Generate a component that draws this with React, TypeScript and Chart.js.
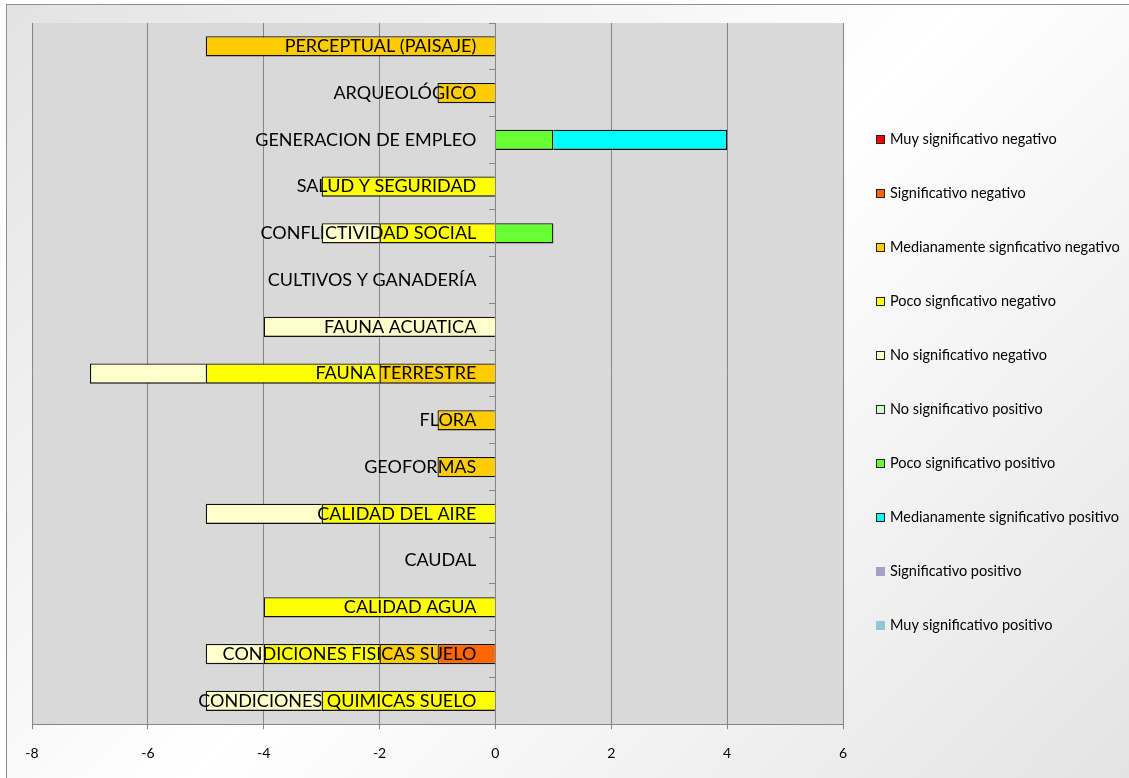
import React, { useEffect, useRef } from "react";
import { Chart, registerables } from "chart.js";

Chart.register(...registerables);

const FONT = "Lato, 'Open Sans', sans-serif";

// Impact categories, listed from the top row down
const categories = [
  "PERCEPTUAL (PAISAJE)",
  "ARQUEOLÓGICO",
  "GENERACION DE EMPLEO",
  "SALUD Y SEGURIDAD",
  "CONFLICTIVIDAD SOCIAL",
  "CULTIVOS Y GANADERÍA",
  "FAUNA ACUATICA",
  "FAUNA TERRESTRE",
  "FLORA",
  "GEOFORMAS",
  "CALIDAD DEL AIRE",
  "CAUDAL",
  "CALIDAD AGUA",
  "CONDICIONES FISICAS SUELO",
  "CONDICIONES QUIMICAS SUELO",
];

const seriesNames = [
  "Muy significativo negativo",
  "Significativo negativo",
  "Medianamente signficativo negativo",
  "Poco signficativo negativo",
  "No significativo negativo",
  "No significativo positivo",
  "Poco significativo positivo",
  "Medianamente significativo positivo",
  "Significativo positivo",
  "Muy significativo positivo",
];

const seriesColors = [
  "#ff0000",
  "#ff6600",
  "#ffcc00",
  "#ffff00",
  "#ffffcc",
  "#ccffcc",
  "#66ff33",
  "#00ffff",
  "#a99cc6",
  "#93c5d7",
];

// Series drawn with a dark outline
const seriesOutlined = [true, true, true, true, true, true, true, true, false, false];

const muySignificativoNegativo = [null, null, null, null, null, null, null, null, null, null, null, null, null, null, null];
const significativoNegativo = [null, null, null, null, null, null, null, null, null, null, null, null, null, -1, null];
const medianamenteNegativo = [-5, -1, null, null, null, null, null, -2, -1, -1, null, null, null, -1, null];
const pocoNegativo = [null, null, null, -3, -2, null, null, -3, null, null, -3, null, -4, -2, -3];
const noSignificativoNegativo = [null, null, null, null, -1, null, -4, -2, null, null, -2, null, null, -1, -2];
const noSignificativoPositivo = [null, null, null, null, null, null, null, null, null, null, null, null, null, null, null];
const pocoPositivo = [null, null, 1, null, 1, null, null, null, null, null, null, null, null, null, null];
const medianamentePositivo = [null, null, 3, null, null, null, null, null, null, null, null, null, null, null, null];
const significativoPositivo = [null, null, null, null, null, null, null, null, null, null, null, null, null, null, null];
const muySignificativoPositivo = [null, null, null, null, null, null, null, null, null, null, null, null, null, null, null];

const seriesValues = [
  muySignificativoNegativo,
  significativoNegativo,
  medianamenteNegativo,
  pocoNegativo,
  noSignificativoNegativo,
  noSignificativoPositivo,
  pocoPositivo,
  medianamentePositivo,
  significativoPositivo,
  muySignificativoPositivo,
];

const xMin = -8;
const xMax = 6;
const xStep = 2;

// Grey fill behind the plotting area
const plotBackground = {
  id: "plotBackground",
  beforeDraw(chart: any) {
    const { ctx, chartArea: a } = chart;
    ctx.save();
    ctx.fillStyle = "#d9d9d9";
    ctx.fillRect(a.left, a.top, a.right - a.left, a.bottom - a.top);
    ctx.restore();
  },
};

// Vertical legend to the right of the plot
const sideLegend = {
  id: "sideLegend",
  afterDraw(chart: any) {
    const { ctx, chartArea } = chart;
    const boxX = chartArea.right + 33;
    ctx.save();
    ctx.font = `14.5px ${FONT}`;
    ctx.textBaseline = "middle";
    ctx.textAlign = "left";
    chart.data.datasets.forEach((ds: any, i: number) => {
      const y = 139 + i * 54;
      const top = Math.round(y - 4.5);
      ctx.fillStyle = ds.backgroundColor;
      ctx.fillRect(boxX, top, 9, 9);
      if (ds.borderWidth > 0) {
        ctx.strokeStyle = "#222222";
        ctx.lineWidth = 1;
        ctx.strokeRect(boxX + 0.5, top + 0.5, 8, 8);
      }
      ctx.fillStyle = "#000000";
      ctx.fillText(ds.label, boxX + 14, y);
    });
    ctx.restore();
  },
};

export default function App() {
  const canvasRef = useRef<HTMLCanvasElement>(null);

  useEffect(() => {
    if (!canvasRef.current) return;
    const chart = new Chart(canvasRef.current, {
      type: "bar",
      data: {
        labels: categories,
        datasets: seriesNames.map((name, i) => ({
          label: name,
          data: seriesValues[i],
          backgroundColor: seriesColors[i],
          borderColor: "#111111",
          borderWidth: seriesOutlined[i] ? 1.3 : 0,
          categoryPercentage: 0.43,
          barPercentage: 1,
        })),
      },
      options: {
        indexAxis: "y",
        animation: false,
        responsive: false,
        maintainAspectRatio: false,
        layout: { padding: { left: 32, top: 23, right: 286, bottom: 0 } },
        plugins: {
          legend: { display: false },
          tooltip: { enabled: false },
        },
        scales: {
          x: {
            type: "linear",
            stacked: true,
            min: xMin,
            max: xMax,
            ticks: {
              stepSize: xStep,
              color: "#000000",
              font: { family: FONT, size: 14 },
              padding: 16,
            },
            grid: { color: "#868686", tickLength: 5 },
            border: { color: "#868686" },
          },
          // Category axis crossing at zero: line and tick marks only
          y: {
            type: "category",
            stacked: true,
            position: { x: 0 },
            grid: {
              drawOnChartArea: false,
              offset: true,
              tickLength: 6,
              color: "#868686",
            },
            border: { color: "#868686" },
            ticks: { display: false },
          },
          // Category names, set just left of the zero line and drawn above the bars
          yLabels: {
            type: "category",
            axis: "y",
            offset: true,
            position: { x: -0.33 },
            grid: { display: false },
            border: { display: false },
            ticks: {
              z: 1,
              autoSkip: false,
              color: "#000000",
              font: { family: FONT, size: 18 },
            },
          },
        },
      },
      plugins: [plotBackground, sideLegend],
    } as any);
    return () => chart.destroy();
  }, []);

  return (
    <div
      style={{
        position: "fixed",
        left: 0,
        top: 0,
        width: 1129,
        height: 778,
        overflow: "hidden",
        background: "#ffffff",
      }}
    >
      <div
        style={{
          position: "absolute",
          left: 6,
          top: 4,
          width: 1130,
          height: 780,
          borderLeft: "1px solid #8e8e8e",
          borderTop: "1px solid #8e8e8e",
          background: "linear-gradient(135deg, #e3e3e3 0%, #ffffff 50%, #e3e3e3 100%)",
        }}
      />
      <canvas
        ref={canvasRef}
        width={1129}
        height={778}
        style={{ position: "absolute", left: 0, top: 0, width: 1129, height: 778 }}
      />
    </div>
  );
}
